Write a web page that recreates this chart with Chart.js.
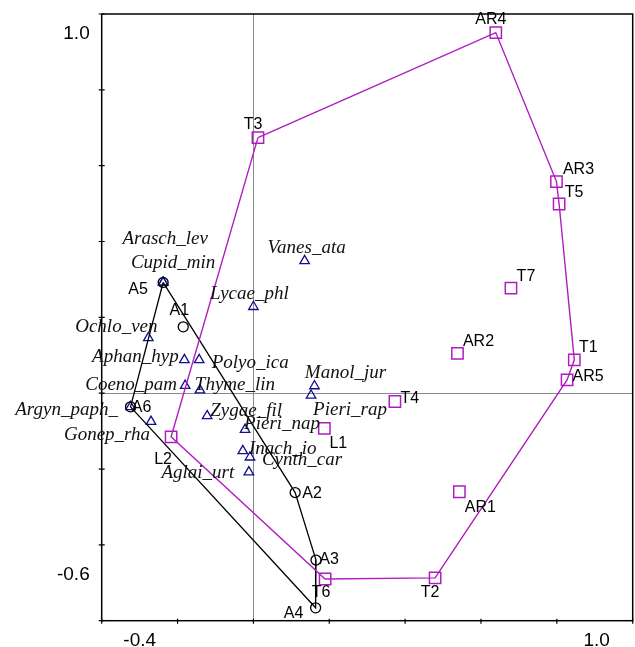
<!DOCTYPE html>
<html>
<head>
<meta charset="utf-8">
<script src="https://cdn.jsdelivr.net/npm/chart.js@4.4.0/dist/chart.umd.min.js"></script>
<style>
  html, body { margin: 0; padding: 0; background: #fff; }
  #wrap { width: 635px; height: 647px; }
</style>
</head>
<body>
<div id="wrap"><canvas id="chart" width="635" height="647"></canvas></div>
<script>
// samples drawn as squares
const siteNames = ["T3", "AR4", "AR3", "T5", "T7", "AR2", "T1", "AR5", "T4", "L1", "L2", "AR1", "T2", "T6"];
const siteX = [0.012, 0.639, 0.799, 0.806, 0.679, 0.538, 0.846, 0.827, 0.373, 0.187, -0.217, 0.543, 0.479, 0.189];
const siteY = [0.674, 0.951, 0.558, 0.499, 0.277, 0.105, 0.088, 0.035, -0.022, -0.093, -0.115, -0.260, -0.487, -0.490];

// samples drawn as circles
const aNames = ["A1", "A2", "A3", "A4", "A5", "A6"];
const aX = [-0.185, 0.110, 0.165, 0.164, -0.238, -0.324];
const aY = [0.175, -0.262, -0.440, -0.566, 0.292, -0.036];

// species (triangles)
const speciesNames = ["Arasch_lev", "Cupid_min", "Vanes_ata", "Lycae_phl", "Ochlo_ven", "Aphan_hyp", "Polyo_ica",
  "Coeno_pam", "Thyme_lin", "Manol_jur", "Pieri_rap", "Argyn_paph_", "Gonep_rha", "Zygae_fil", "Pieri_nap",
  "Inach_io", "Cynth_car", "Aglai_urt"];
const speciesX = [-0.238, -0.238, 0.135, 0.000, -0.277, -0.182, -0.143, -0.180, -0.141, 0.161, 0.152, -0.324,
  -0.270, -0.122, -0.022, -0.028, -0.009, -0.012];
const speciesY = [0.292, 0.292, 0.349, 0.228, 0.146, 0.088, 0.088, 0.020, 0.008, 0.019, -0.006, -0.036,
  -0.075, -0.060, -0.096, -0.152, -0.169, -0.208];

// envelopes
const siteHull = ["T3", "AR4", "AR3", "T5", "T1", "AR5", "T2", "T6", "L2", "T3"];
const aHull = ["A5", "A2", "A3", "A4", "A6", "A5"];

// axis ticks
const xTicks = [-0.4, -0.2, 0, 0.2, 0.4, 0.6, 0.8, 1.0];
const yTicks = [-0.6, -0.4, -0.2, 0, 0.2, 0.4, 0.6, 0.8, 1.0];
const xTickLabels = ["-0.4", "1.0"];
const yTickLabels = ["-0.6", "1.0"];

// label offsets in px from the marker
const labelOffsets = {
  T3: [-5, -13], AR4: [-5, -13], AR3: [22, -12], T5: [15, -11], T7: [15, -12], AR2: [21, -12],
  T1: [14, -12], AR5: [21, -3], T4: [15, -3], L1: [14, 15], L2: [-8, 23], AR1: [21, 16],
  T2: [-5, 15], T6: [-4, 14],
  A1: [-4, -16], A2: [17, 1], A3: [13, 0], A4: [-22, 6], A5: [-25, 7], A6: [11, 1],
  Arasch_lev: [2, -43], Cupid_min: [10, -19], Vanes_ata: [2, -13], Lycae_phl: [-4, -13],
  Ochlo_ven: [-32, -11], Aphan_hyp: [-49, -3], Polyo_ica: [51, 3], Coeno_pam: [-54, -1],
  Thyme_lin: [35, -5], Manol_jur: [31, -13], Pieri_rap: [39, 15], Argyn_paph_: [-64, 3],
  Gonep_rha: [-44, 13], Zygae_fil: [39, -5], Pieri_nap: [37, -6], Inach_io: [40, -2],
  Cynth_car: [52, 3], Aglai_urt: [-51, 1]
};

const MAGENTA = "#b01cc0";
const NAVY = "#10108c";

const toPoints = (xs, ys) => xs.map((x, i) => ({ x: x, y: ys[i] }));
const hullPoints = (order, names, xs, ys) =>
  order.map((n) => { const i = names.indexOf(n); return { x: xs[i], y: ys[i] }; });

// frame, ticks, zero lines and all text
const ordinationPlugin = {
  id: "ordination",
  beforeDatasetsDraw(chart) {
    const { ctx, chartArea: a, scales: { x, y } } = chart;
    ctx.save();
    ctx.strokeStyle = "#8a8a8a";
    ctx.lineWidth = 1;
    const x0 = Math.round(x.getPixelForValue(0)) + 0.5;
    const y0 = Math.round(y.getPixelForValue(0)) + 0.5;
    ctx.beginPath();
    ctx.moveTo(x0, a.top); ctx.lineTo(x0, a.bottom);
    ctx.moveTo(a.left, y0); ctx.lineTo(a.right, y0);
    ctx.stroke();
    ctx.restore();
  },
  afterDatasetsDraw(chart) {
    const { ctx, chartArea: a, scales: { x, y } } = chart;
    ctx.save();
    // box
    ctx.strokeStyle = "#000";
    ctx.lineWidth = 1.5;
    ctx.strokeRect(a.left, a.top, a.right - a.left, a.bottom - a.top);
    // ticks
    ctx.lineWidth = 1.2;
    ctx.beginPath();
    xTicks.forEach((v) => {
      const px = x.getPixelForValue(v);
      ctx.moveTo(px, a.bottom - 2); ctx.lineTo(px, a.bottom + 3);
    });
    yTicks.forEach((v) => {
      const py = y.getPixelForValue(v);
      ctx.moveTo(a.left - 3, py); ctx.lineTo(a.left + 3, py);
    });
    ctx.stroke();

    // tick labels at the ends of each axis
    ctx.fillStyle = "#000";
    ctx.font = '19px "Liberation Sans", Arial, sans-serif';
    ctx.textBaseline = "middle";
    ctx.textAlign = "center";
    ctx.fillText(xTickLabels[0], x.getPixelForValue(xTicks[0]) + 38, a.bottom + 20);
    ctx.fillText(xTickLabels[1], x.getPixelForValue(xTicks[xTicks.length - 1]) - 36, a.bottom + 20);
    ctx.textAlign = "right";
    ctx.fillText(yTickLabels[0], a.left - 12, y.getPixelForValue(yTicks[0]) - 46);
    ctx.fillText(yTickLabels[1], a.left - 12, y.getPixelForValue(yTicks[yTicks.length - 1]) + 20);

    // point labels
    const drawLabels = (names, xs, ys, font) => {
      ctx.font = font;
      ctx.textAlign = "center";
      ctx.textBaseline = "middle";
      names.forEach((n, i) => {
        const off = labelOffsets[n] || [0, -12];
        ctx.fillText(n, x.getPixelForValue(xs[i]) + off[0], y.getPixelForValue(ys[i]) + off[1]);
      });
    };
    ctx.fillStyle = "#111";
    drawLabels(speciesNames, speciesX, speciesY, 'italic 19px "Liberation Serif", "Times New Roman", serif');
    ctx.fillStyle = "#000";
    drawLabels(siteNames, siteX, siteY, '16px "Liberation Sans", Arial, sans-serif');
    drawLabels(aNames, aX, aY, '16px "Liberation Sans", Arial, sans-serif');
    ctx.restore();
  }
};

const ctx = document.getElementById("chart").getContext("2d");
const myChart = new Chart(ctx, {
  type: "scatter",
  data: {
    datasets: [
      {
        label: "site envelope",
        data: hullPoints(siteHull, siteNames, siteX, siteY),
        showLine: true,
        borderColor: MAGENTA,
        borderWidth: 1.4,
        pointRadius: 0,
        fill: false,
        tension: 0
      },
      {
        label: "A envelope",
        data: hullPoints(aHull, aNames, aX, aY),
        showLine: true,
        borderColor: "#000",
        borderWidth: 1.3,
        pointRadius: 0,
        fill: false,
        tension: 0
      },
      {
        label: "sites",
        data: toPoints(siteX, siteY),
        pointStyle: "rect",
        pointRadius: 8,
        borderColor: MAGENTA,
        backgroundColor: "rgba(0,0,0,0)",
        borderWidth: 1.5
      },
      {
        label: "A",
        data: toPoints(aX, aY),
        pointStyle: "circle",
        pointRadius: 5,
        borderColor: "#000",
        backgroundColor: "rgba(0,0,0,0)",
        borderWidth: 1.3
      },
      {
        label: "species",
        data: toPoints(speciesX, speciesY),
        pointStyle: "triangle",
        pointRadius: 5.5,
        borderColor: NAVY,
        backgroundColor: "rgba(0,0,0,0)",
        borderWidth: 1.3
      }
    ]
  },
  options: {
    responsive: false,
    animation: false,
    devicePixelRatio: 1,
    layout: { autoPadding: false, padding: { left: 101.7, right: 2.3, top: 14, bottom: 26.3 } },
    scales: {
      x: { type: "linear", min: -0.4, max: 1.0, display: false },
      y: { type: "linear", min: -0.6, max: 1.0, display: false }
    },
    plugins: {
      legend: { display: false },
      tooltip: { enabled: false }
    }
  },
  plugins: [ordinationPlugin]
});
</script>
</body>
</html>
